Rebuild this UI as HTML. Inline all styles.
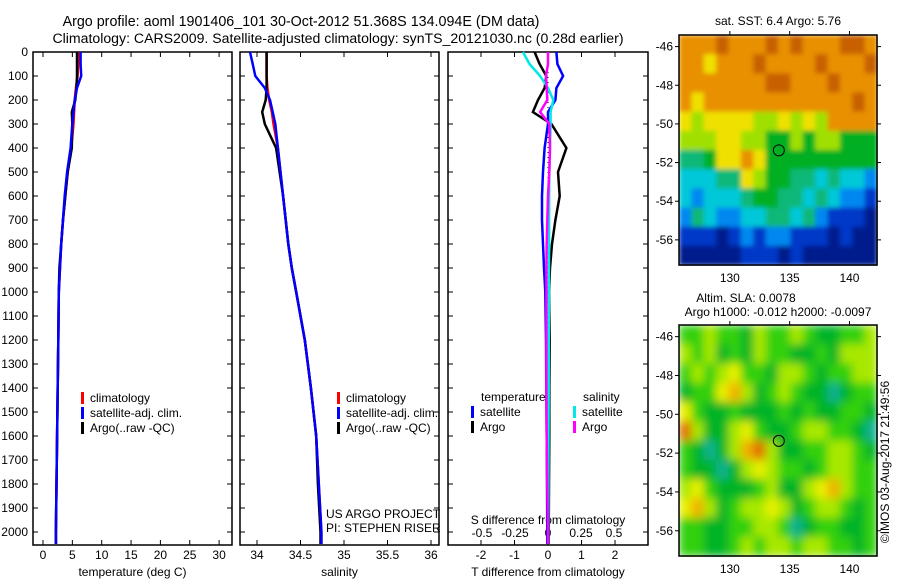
<!DOCTYPE html>
<html><head><meta charset="utf-8"><style>
body{margin:0;background:#fff;}
svg{display:block;font-family:"Liberation Sans",sans-serif;font-size:12px;}
</style></head><body>
<svg id="fig" width="900" height="580" viewBox="0 0 900 580">
<defs>
<filter id="blurS" x="0" y="0" width="1" height="1"><feGaussianBlur stdDeviation="2.5" edgeMode="duplicate"/></filter>
<filter id="blurL" x="0" y="0" width="1" height="1"><feGaussianBlur stdDeviation="4.5" edgeMode="duplicate"/></filter>
</defs>
<text x="301" y="26" text-anchor="middle" style="font-size:14.3px">Argo profile: aoml 1901406_101 30-Oct-2012 51.368S 134.094E (DM data)</text>
<text x="338" y="43" text-anchor="middle" style="font-size:14.1px">Climatology: CARS2009. Satellite-adjusted climatology: synTS_20121030.nc (0.28d earlier)</text>
</svg>
<script>
// ---------- data ----------
const depths = [0,50,100,150,200,250,300,400,500,600,700,800,900,1000,1200,1400,1600,1800,2000,2050];
const tempClim = [6.0,6.0,5.9,5.6,5.4,5.3,5.2,4.8,4.2,3.8,3.4,3.1,2.9,2.7,2.6,2.5,2.4,2.3,2.2,2.2];
const tempSat  = [6.4,6.4,6.5,5.8,5.4,5.2,5.0,4.7,4.1,3.7,3.4,3.1,2.9,2.7,2.6,2.5,2.4,2.3,2.2,2.2];
const tempArgo = [5.8,5.8,5.8,5.7,5.5,4.9,5.0,4.9,4.2,3.8,3.4,3.1,2.8,2.7,2.6,2.5,2.4,2.3,2.2,2.2];
const salClim = [34.11,34.11,34.11,34.12,34.14,34.17,34.19,34.24,34.27,34.30,34.33,34.36,34.40,34.45,34.55,34.62,34.68,34.71,34.74,34.74];
const salSat  = [33.92,33.95,33.98,34.09,34.15,34.18,34.21,34.24,34.27,34.30,34.33,34.36,34.40,34.45,34.55,34.62,34.68,34.71,34.74,34.74];
const salArgo = [34.11,34.11,34.11,34.11,34.10,34.06,34.09,34.22,34.26,34.30,34.33,34.36,34.40,34.45,34.55,34.62,34.68,34.70,34.73,34.73];
const tDiffSat  = [0.25,0.28,0.45,0.25,0.22,0.0,0.0,-0.1,-0.15,-0.18,-0.18,-0.15,-0.12,-0.08,-0.06,-0.05,-0.04,-0.03,-0.02,-0.02];
const tDiffArgo = [-0.4,-0.25,-0.05,-0.1,-0.3,-0.45,0.1,0.55,0.3,0.35,0.22,0.12,0.06,0.03,0.05,0.04,0.04,0.03,0.02,0.02];
const sDiffSat  = [-0.19,-0.14,-0.06,0.0,0.04,0.02,0.02,0.015,0.01,0.008,0.008,0.008,0.007,0.007,0.006,0.005,0.004,0.003,0.002,0.002];
const sDiffArgo = [0.0,0.0,-0.015,-0.01,-0.005,-0.06,0.01,0.015,0.01,0.0,-0.005,-0.01,-0.012,-0.012,-0.012,-0.012,-0.01,-0.005,0.0,0.0];
const depthTicks = [0,100,200,300,400,500,600,700,800,900,1000,1100,1200,1300,1400,1500,1600,1700,1800,1900,2000];
const tempTicks = [0,5,10,15,20,25,30];
const salTicks = [34,34.5,35,35.5,36];
const salTickLabels = ["34","34.5","35","35.5","36"];
const tDiffTicks = [-2,-1,0,1,2];
const sDiffTicks = [-0.5,-0.25,0,0.25,0.5];
const lonTicks = [130,135,140];
const latTicks = [-46,-48,-50,-52,-54,-56];
const sstGrid = [
[8,8,8,9,8,8,8,9,8,9,8,8,8,9,9,8],
[8,8,7,8,8,8,9,8,8,8,8,9,8,8,8,9],
[8,8,8,8,8,8,8,9,9,8,8,8,9,8,8,8],
[8,7,8,8,8,8,8,8,8,8,8,8,8,8,9,8],
[7,6,7,7,7,7,6,6,7,6,7,6,8,8,8,8],
[6,6,6,7,7,6,6,5,5,6,5,6,6,5,5,5],
[4,4,5,7,7,8,7,5,5,5,5,5,5,5,5,5],
[3,3,3,4,4,7,6,5,5,4,4,3,4,3,3,2],
[3,2,3,3,3,4,5,5,4,4,3,4,3,2,2,1],
[2,4,3,2,2,3,3,4,4,3,4,2,1,1,1,0],
[1,1,1,0,1,2,1,2,2,1,1,1,0,1,0,0],
[0,0,0,0,0,1,1,1,0,1,0,0,0,0,0,0]];
const slaGrid = [
[2,2,3,2,2,1,3,2,2,3,2,1,1,2,2,3],
[3,2,3,1,2,1,3,2,2,1,1,2,1,3,3,3],
[2,3,2,3,4,2,2,1,3,3,2,1,2,2,3,3],
[1,2,2,4,5,3,1,2,3,2,1,1,0,1,2,2],
[4,2,1,1,2,1,1,1,2,1,2,1,1,2,2,1],
[6,3,1,1,3,4,2,1,1,2,3,3,2,2,1,0],
[2,1,0,1,3,5,6,3,1,1,2,2,3,3,2,1],
[2,1,1,0,1,3,4,3,2,2,1,2,3,3,2,2],
[3,4,2,1,1,1,2,3,1,1,3,4,5,3,2,2],
[4,5,3,1,2,3,3,4,3,1,2,3,3,2,1,2],
[2,2,1,1,2,2,3,3,2,0,1,2,2,1,1,2],
[2,2,1,1,2,3,2,3,3,2,3,3,2,2,1,2]];
const sstColors = ["#001a8c","#0038c8","#0088f0","#00c8d8","#10b878","#00b020","#a0e000","#f0e000","#e89000","#c86000"];
const slaColors = ["#10b090","#00b428","#30d010","#a8e800","#e8f000","#f0b000","#e07000"];
const floatLon = 134.094, floatLat = -51.368;

// ---------- helpers ----------
const NS="http://www.w3.org/2000/svg";
const svg=document.getElementById('fig');
function mk(tag,attrs,parent){const e=document.createElementNS(NS,tag);for(const k in attrs)e.setAttribute(k,attrs[k]);(parent||svg).appendChild(e);return e;}
const yD = d => 52 + d*0.24;
const PT=52, PB=545;

function panel(name,x0,x1,xScale,xTicks,xLabels,xTitle,showDepth){
  const g=mk('g',{});
  
  
  mk('rect',{x:x0,y:PT,width:x1-x0,height:PB-PT,fill:'none',stroke:'#000','stroke-width':1.5},g);
  depthTicks.forEach(d=>{
    mk('line',{x1:x0,x2:x0+5,y1:yD(d),y2:yD(d),stroke:'#000'},g);
    mk('line',{x1:x1-5,x2:x1,y1:yD(d),y2:yD(d),stroke:'#000'},g);
    if(showDepth){const t=mk('text',{x:x0-5,y:yD(d)+4,'text-anchor':'end'},g);t.textContent=d;
      
      }
  });
  xTicks.forEach((v,i)=>{
    const x=xScale(v);
    mk('line',{x1:x,x2:x,y1:PB,y2:PB-5,stroke:'#000'},g);
    mk('line',{x1:x,x2:x,y1:PT,y2:PT+5,stroke:'#000'},g);
    if(xLabels){const t=mk('text',{x:x,y:559,'text-anchor':'middle'},g);t.textContent=xLabels[i];
      
      }
  });
  const t=mk('text',{x:(x0+x1)/2,y:576,'text-anchor':'middle'},g);t.textContent=xTitle;
  
  
  return g;
}
function line(vals,xScale,color,name,g){
  const pts=vals.map((v,i)=>xScale(v).toFixed(1)+','+yD(depths[i]).toFixed(1)).join(' ');
  const p=mk('polyline',{points:pts,fill:'none',stroke:color,'stroke-width':2.5},g);
  
  
}
function legend(g,x,y,items){
  items.forEach((it,i)=>{
    mk('rect',{x:x,y:y+i*15-10,width:3,height:12,fill:it[1]},g);
    const t=mk('text',{x:x+9,y:y+i*15},g);t.textContent=it[0];
    
    
  });
}

// ---------- temperature panel ----------
const xT = t => 43 + t*5.87;
const g1=panel('temperature-panel',33,232,xT,tempTicks,tempTicks,'temperature (deg C)',true);
line(tempClim,xT,'#ff0000','temp-climatology-line',g1);
line(tempArgo,xT,'#000000','temp-argo-line',g1);
line(tempSat,xT,'#0000ff','temp-satellite-line',g1);
legend(g1,81,402,[['climatology','#ff0000'],['satellite-adj. clim.','#0000ff'],['Argo(..raw -QC)','#000']]);

// ---------- salinity panel ----------
const xS = s => 257 + (s-34)*87;
const g2=panel('salinity-panel',240,439,xS,salTicks,salTickLabels,'salinity',false);
line(salClim,xS,'#ff0000','sal-climatology-line',g2);
line(salArgo,xS,'#000000','sal-argo-line',g2);
line(salSat,xS,'#0000ff','sal-satellite-line',g2);
legend(g2,337,402,[['climatology','#ff0000'],['satellite-adj. clim.','#0000ff'],['Argo(..raw -QC)','#000']]);
[['US ARGO PROJECT',518],['PI: STEPHEN RISER',532]].forEach(a=>{const t=mk('text',{x:326,y:a[1]},g2);t.textContent=a[0];
  
  });

// ---------- difference panel ----------
const xTd = d => 548 + d*33.5;
const xSd = d => 548 + d*132;
const g3=panel('difference-panel',448,648,xTd,tDiffTicks,tDiffTicks,'T difference from climatology',false);
sDiffTicks.forEach(v=>{const t=mk('text',{x:xSd(v),y:537,'text-anchor':'middle'},g3);t.textContent=v;
  
  });
{const t=mk('text',{x:548,y:524,'text-anchor':'middle'},g3);t.textContent='S difference from climatology';
  
  }
mk('line',{x1:548,x2:548,y1:PT,y2:PB,stroke:'#000','stroke-dasharray':'1,4'},g3);
line(tDiffArgo,xTd,'#000000','t-diff-argo-line',g3);
line(tDiffSat,xTd,'#0000ff','t-diff-satellite-line',g3);
line(sDiffSat,xSd,'#00e8e8','s-diff-satellite-line',g3);
line(sDiffArgo,xSd,'#ff00ff','s-diff-argo-line',g3);
{const t=mk('text',{x:481,y:401},g3);t.textContent='temperature';
 const t2=mk('text',{x:583,y:401},g3);t2.textContent='salinity';
 
 }
legend(g3,471,416,[['satellite','#0000ff'],['Argo','#000']]);
legend(g3,573,416,[['satellite','#00e8e8'],['Argo','#ff00ff']]);

// ---------- maps ----------
const LON0=125.75, LON1=142.3, LAT0=-45.4, LAT1=-57.3;
function map(name,x0,x1,y0,y1,grid,colors,filt){
  const g=mk('g',{});
  
  
  const xL = lon => x0 + (lon-LON0)/(LON1-LON0)*(x1-x0);
  const yL = lat => y0 + (lat-LAT0)/(LAT1-LAT0)*(y1-y0);
  const rows=grid.length, cols=grid[0].length;
  const cw=(x1-x0)/cols, ch=(y1-y0)/rows;
  const cells=mk('g',{filter:'url(#'+filt+')'},g);
  grid.forEach((row,r)=>row.forEach((v,c)=>{
    const cell=mk('rect',{x:x0+c*cw,y:y0+r*ch,width:cw+0.6,height:ch+0.6,fill:colors[v]},cells);
    
    
  }));
  mk('rect',{x:x0,y:y0,width:x1-x0,height:y1-y0,fill:'none',stroke:'#000','stroke-width':1.5},g);
  lonTicks.forEach(v=>{const x=xL(v);
    mk('line',{x1:x,x2:x,y1:y0-4,y2:y0,stroke:'#000'},g);
    const t=mk('text',{x:x,y:y1+17,'text-anchor':'middle'},g);t.textContent=v;
    
    });
  latTicks.forEach(v=>{const y=yL(v);
    mk('line',{x1:x0-4,x2:x0,y1:y,y2:y,stroke:'#000'},g);
    mk('line',{x1:x1,x2:x1+4,y1:y,y2:y,stroke:'#000'},g);
    const t=mk('text',{x:x0-6,y:y+4,'text-anchor':'end'},g);t.textContent=v;
    
    });
  const c=mk('circle',{cx:xL(floatLon),cy:yL(floatLat),r:5.5,fill:'none',stroke:'#000'},g);
  
  
}
map('sst-map',679,877,35,265,sstGrid,sstColors,'blurS');
map('sla-map',679,877,325,556,slaGrid,slaColors,'blurL');
[['sat. SST: 6.4  Argo: 5.76',778,25,'middle','sst-map-title'],
 ['Altim. SLA: 0.0078',746,302,'middle','sla-map-title'],
 ['Argo h1000: -0.012 h2000: -0.0097',778,316,'middle','argo-height-title']].forEach(a=>{
  const t=mk('text',{x:a[1],y:a[2],'text-anchor':a[3]});t.textContent=a[0];
  
  });
{const t=mk('text',{x:0,y:0,'text-anchor':'middle',transform:'translate(889,462) rotate(-90)'});
 t.textContent='©IMOS 03-Aug-2017 21:49:56';
 
 }
</script>
</body></html>
